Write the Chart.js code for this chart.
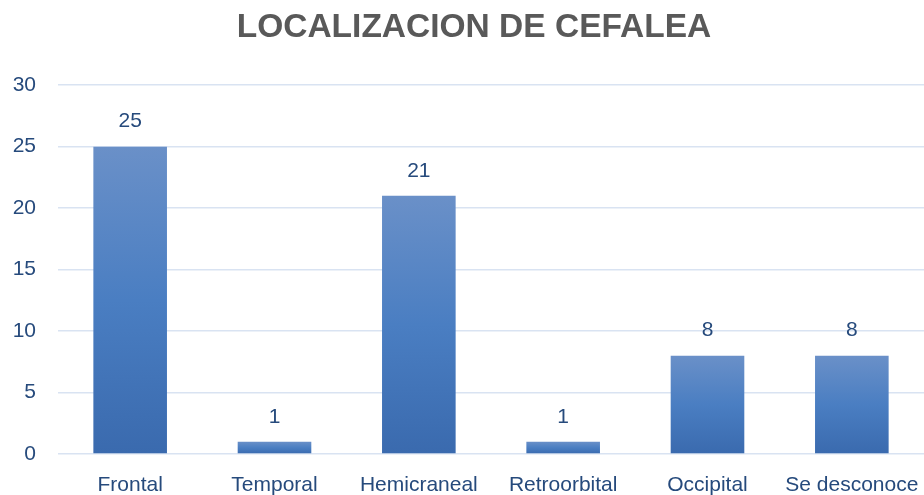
<!DOCTYPE html>
<html>
<head>
<meta charset="utf-8">
<script src="https://cdn.jsdelivr.net/npm/chart.js@4"></script>
<style>
  html, body { margin: 0; padding: 0; background: #fff; }
  #wrap { width: 924px; height: 495px; }
</style>
</head>
<body>
<div id="wrap"><canvas id="cefalea" width="924" height="495"></canvas></div>
<script>
// data
const categories = ['Frontal', 'Temporal', 'Hemicraneal', 'Retroorbital', 'Occipital', 'Se desconoce'];
const counts = [25, 1, 21, 1, 8, 8];
const yTicks = [0, 5, 10, 15, 20, 25, 30];

const textBlue = '#264a7c';
const gridBlue = '#d9e3f2';

// value labels above each bar
const barLabels = {
  id: 'barLabels',
  afterLayout(chart) {
    // title sits a bit right of the canvas centre in the original
    const t = chart.titleBlock;
    if (t) { t.left += 12; t.right += 12; }
  },
  afterDatasetsDraw(chart) {
    const ctx = chart.ctx;
    const meta = chart.getDatasetMeta(0);
    ctx.save();
    ctx.fillStyle = textBlue;
    ctx.font = '21px "Liberation Sans", Arial, sans-serif';
    ctx.textAlign = 'center';
    ctx.textBaseline = 'middle';
    meta.data.forEach((bar, i) => {
      ctx.fillText(counts[i], bar.x, bar.y - 25);
    });
    ctx.restore();
  }
};

function barFill(c) {
  const chart = c.chart;
  if (!chart.chartArea) return '#4f7fc0';
  const y = chart.scales.y;
  const top = y.getPixelForValue(counts[c.dataIndex]);
  const bottom = y.getPixelForValue(0);
  const g = chart.ctx.createLinearGradient(0, top, 0, bottom);
  g.addColorStop(0, '#6a90c8');
  g.addColorStop(0.5, '#4a7ec2');
  g.addColorStop(1, '#3a6aae');
  return g;
}

new Chart(document.getElementById('cefalea'), {
  type: 'bar',
  data: {
    labels: categories,
    datasets: [{
      data: counts,
      backgroundColor: barFill,
      borderWidth: 0,
      categoryPercentage: 1,
      barPercentage: 0.51
    }]
  },
  options: {
    responsive: false,
    animation: false,
    layout: { padding: 0 },
    plugins: {
      legend: { display: false },
      tooltip: { enabled: false },
      title: {
        display: true,
        text: 'LOCALIZACION DE CEFALEA',
        color: '#595959',
        font: { family: '"Liberation Sans", Arial, sans-serif', size: 33.5, weight: 'bold' },
        padding: { top: 8, bottom: 37 }
      }
    },
    scales: {
      x: {
        afterFit(scale) {
          scale.height = 41;
          scale.paddingLeft = 0;
          scale.paddingRight = 0;
        },
        grid: { display: false, drawTicks: false },
        border: { display: false },
        ticks: {
          color: textBlue,
          padding: 19,
          maxRotation: 0,
          autoSkip: false,
          font: { family: '"Liberation Sans", Arial, sans-serif', size: 21 }
        }
      },
      y: {
        min: 0,
        max: 30,
        afterBuildTicks(scale) { scale.ticks = yTicks.map(v => ({ value: v })); },
        afterFit(scale) {
          scale.width = 58;
          scale.paddingTop = 0;
          scale.paddingBottom = 0;
        },
        grid: { color: gridBlue, lineWidth: 1.5, drawTicks: false },
        border: { display: false },
        ticks: {
          color: textBlue,
          padding: 22,
          font: { family: '"Liberation Sans", Arial, sans-serif', size: 21 }
        }
      }
    }
  },
  plugins: [barLabels]
});
</script>
</body>
</html>
